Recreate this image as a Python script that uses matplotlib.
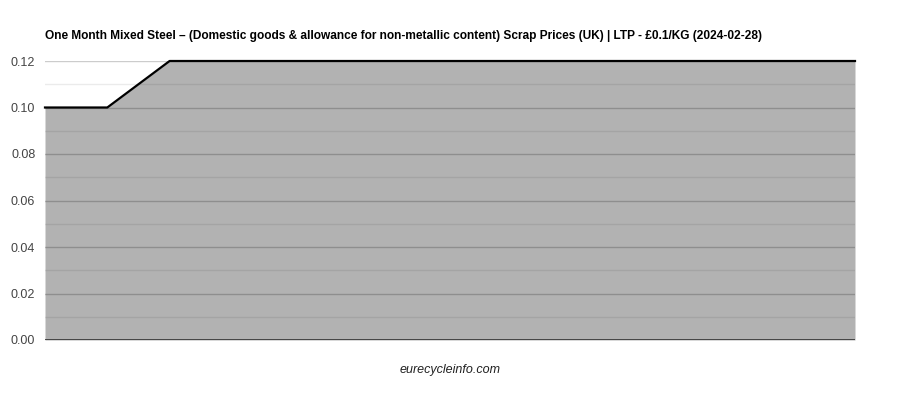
import matplotlib.pyplot as plt
from matplotlib.ticker import MultipleLocator

plt.rcParams['font.family'] = ['Liberation Sans', 'DejaVu Sans']

title = "One Month Mixed Steel \u2013 (Domestic goods & allowance for non-metallic content) Scrap Prices (UK) | LTP - \u00a30.1/KG (2024-02-28)"
days = list(range(14))
prices = [0.10, 0.10, 0.12, 0.12, 0.12, 0.12, 0.12, 0.12, 0.12, 0.12, 0.12, 0.12, 0.12, 0.12]

fig = plt.figure(figsize=(9, 4), dpi=100)
ax = fig.add_axes([0.05, 0.15, 0.9, 0.6975])

ax.set_xlim(days[0], days[-1])
ax.set_ylim(0, 0.12)
ax.yaxis.set_major_locator(MultipleLocator(0.02))
ax.yaxis.set_minor_locator(MultipleLocator(0.01))
ax.yaxis.set_major_formatter(lambda v, p: f"{v:.2f}")
ax.grid(which='major', axis='y', color='#cccccc', linewidth=1)
ax.grid(which='minor', axis='y', color='#ebebeb', linewidth=1)
ax.set_axisbelow(True)

ax.fill_between(days, prices, 0, color='black', alpha=0.3, linewidth=0)
ax.plot(days, prices, color='black', linewidth=1.6, clip_on=False)
ax.axhline(0, color='#333333', linewidth=1.2)

ax.set_xticks([])
ax.tick_params(axis='y', which='both', length=0, labelsize=9, labelcolor='#444444', pad=7)
for s in ['top', 'right', 'bottom', 'left']:
    ax.spines[s].set_visible(False)

fig.text(0.05, 0.91, title, fontsize=8.6, fontweight='bold', ha='left', va='center')
fig.text(0.5, 0.075, "eurecycleinfo.com", fontsize=9, style='italic', color='#222222', ha='center', va='center')

fig.savefig("out.png", dpi=100)
